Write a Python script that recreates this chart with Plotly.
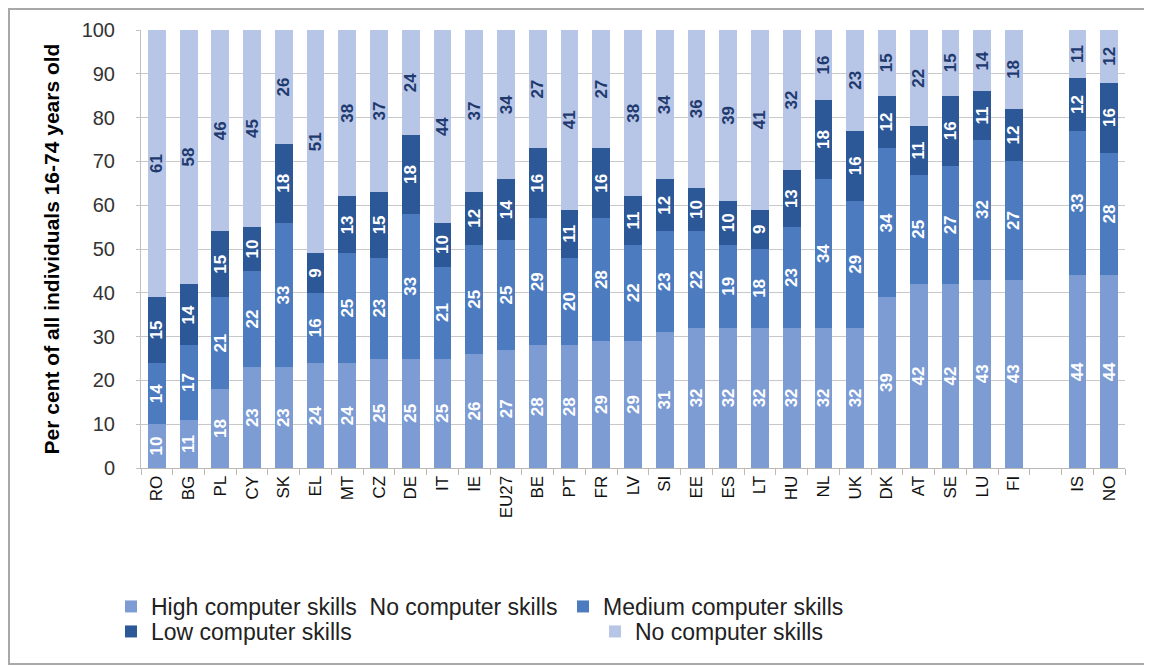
import plotly.graph_objects as go

countries = ["RO", "BG", "PL", "CY", "SK", "EL", "MT", "CZ", "DE", "IT", "IE", "EU27", "BE", "PT",
             "FR", "LV", "SI", "EE", "ES", "LT", "HU", "NL", "UK", "DK", "AT", "SE", "LU", "FI",
             "IS", "NO"]
high = [10, 11, 18, 23, 23, 24, 24, 25, 25, 25, 26, 27, 28, 28, 29, 29, 31, 32, 32, 32, 32, 32, 32,
        39, 42, 42, 43, 43, 44, 44]
medium = [14, 17, 21, 22, 33, 16, 25, 23, 33, 21, 25, 25, 29, 20, 28, 22, 23, 22, 19, 18, 23, 34, 29,
          34, 25, 27, 32, 27, 33, 28]
low = [15, 14, 15, 10, 18, 9, 13, 15, 18, 10, 12, 14, 16, 11, 16, 11, 12, 10, 10, 9, 13, 18, 16,
       12, 11, 16, 11, 12, 12, 16]
none = [61, 58, 46, 45, 26, 51, 38, 37, 24, 44, 37, 34, 27, 41, 27, 38, 34, 36, 39, 41, 32, 16, 23,
        15, 22, 15, 14, 18, 11, 12]
gap_after = "FI"

series_names = ["High computer skills  No computer skills", "Medium computer skills",
                "Low computer skills", "No computer skills"]
colors = ["#7D9CD4", "#4D7BC0", "#2D5897", "#B7C5E6"]
label_colors = ["white", "white", "white", "#1F3A6E"]
legend_ids = ["legend", "legend", "legend2", "legend2"]


def with_gap(vals, filler):
    out = []
    for c, v in zip(countries, vals):
        out.append(v)
        if c == gap_after:
            out.append(filler)
    return out


xcats = with_gap(countries, " ")

# page body has an 8px margin, so the figure is sized to fill the rest of the window
W, H = 1144, 658
L, T = 133, 22
pw, ph = 984, 438
R, B = W - L - pw, H - T - ph

fig = go.Figure()
for name, vals, col, lc, lg in zip(series_names, [high, medium, low, none], colors, label_colors, legend_ids):
    yv = with_gap(vals, None)
    fig.add_trace(go.Bar(
        x=xcats, y=yv, name=name, marker=dict(color=col, line=dict(width=0)),
        text=[("" if v is None else str(v)) for v in yv],
        textposition="inside", insidetextanchor="middle", textangle=-90,
        constraintext="none",
        textfont=dict(family="Liberation Sans", size=17, color=lc, weight="bold"),
        legend=lg,
    ))


def px2x(p):
    return (p - L) / pw


def py2y(p):
    return (H - B - p) / ph


leg_font = dict(family="Liberation Sans", size=23, color="#222222")

fig.update_layout(
    width=W, height=H, barmode="stack", bargap=0.44,
    margin=dict(l=L, r=R, t=T, b=B, autoexpand=False),
    plot_bgcolor="white", paper_bgcolor="white",
    font=dict(family="Liberation Sans", color="#222222"),
    xaxis=dict(
        type="category", tickangle=-90, tickfont=dict(size=17, color="#111111"),
        ticks="outside", tickson="boundaries", ticklen=6, tickcolor="#C8B8A8",
        showline=True, linecolor="#B8B8B8", linewidth=1, showgrid=False,
        automargin=False,
    ),
    yaxis=dict(
        range=[0, 100], dtick=10, tickfont=dict(size=20, color="#333333"),
        ticks="outside", ticklen=4, tickcolor="#C0C0C0",
        showgrid=True, gridcolor="#C8C8C8", gridwidth=1,
        showline=True, linecolor="#C0C0C0", linewidth=1,
        zeroline=False, ticklabelstandoff=17,
        title=dict(text="<b>Per cent of all individuals 16-74 years old</b>",
                   font=dict(size=21, color="#000000"), standoff=16),
        automargin=False,
    ),
    legend=dict(orientation="h", x=px2x(103), xanchor="left", y=py2y(577), yanchor="top",
                entrywidth=407, entrywidthmode="pixels", font=leg_font,
                bgcolor="rgba(0,0,0,0)", traceorder="normal"),
    legend2=dict(orientation="h", x=px2x(103), xanchor="left", y=py2y(602), yanchor="top",
                 entrywidth=439, entrywidthmode="pixels", font=leg_font,
                 bgcolor="rgba(0,0,0,0)", traceorder="normal"),
    shapes=[dict(type="rect", xref="paper", yref="paper",
                 x0=px2x(1), x1=px2x(W - 2), y0=py2y(H - 2), y1=py2y(1),
                 line=dict(color="#A8A8A8", width=2), fillcolor="rgba(0,0,0,0)", layer="below")],
)

fig.write_html("out.html")
